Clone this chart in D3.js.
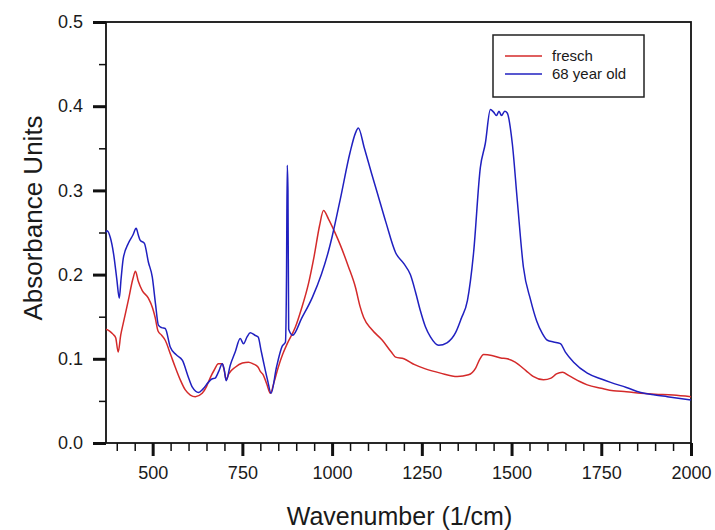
<!DOCTYPE html>
<html lang="en">
  <head>
    <meta charset="utf-8">
    <title>Absorbance spectra</title>
    <script src="https://cdnjs.cloudflare.com/ajax/libs/d3/7.8.5/d3.min.js"></script>
    <style>
      body { margin: 0; background: #fff; }
      text { font-family: "Liberation Sans", Arial, sans-serif; fill: #1a1a1a; }
    </style>
  </head>
  <body>
    <div class="chart"></div>
    <script>

      // wavenumber (1/cm) and absorbance
      var freschWave = [370, 380, 390, 397, 404, 411, 418, 432, 445, 452, 460, 471, 488, 500, 507, 515, 525, 535, 550, 563,
        577, 591, 605, 619, 638, 650, 661, 672, 683, 694, 700, 705, 712, 730, 750, 767, 780, 794, 800, 808,
        818, 828, 838, 850, 862, 875, 898, 915, 934, 950, 965, 976, 990, 1009, 1023, 1045, 1065, 1078, 1088, 1110,
        1140, 1165, 1177, 1200, 1230, 1260, 1302, 1349, 1380, 1400, 1412, 1422, 1445, 1470, 1488, 1510, 1540, 1560, 1589, 1610,
        1625, 1642, 1660, 1690, 1711, 1750, 1784, 1820, 1860, 1900, 1950, 2000];
      var freschAbs = [0.135, 0.133, 0.129, 0.125, 0.108, 0.128, 0.142, 0.169, 0.195, 0.204, 0.192, 0.181, 0.172, 0.160, 0.149, 0.133, 0.128, 0.122, 0.105, 0.090,
        0.075, 0.063, 0.057, 0.055, 0.059, 0.067, 0.078, 0.087, 0.094, 0.094, 0.085, 0.075, 0.082, 0.090, 0.095, 0.096, 0.094, 0.090, 0.085, 0.081,
        0.070, 0.059, 0.072, 0.090, 0.105, 0.118, 0.138, 0.160, 0.189, 0.222, 0.258, 0.276, 0.266, 0.249, 0.235, 0.210, 0.185, 0.162, 0.149, 0.135,
        0.122, 0.108, 0.102, 0.100, 0.093, 0.088, 0.083, 0.079, 0.081, 0.089, 0.100, 0.105, 0.104, 0.101, 0.100, 0.096, 0.086, 0.079, 0.075, 0.077,
        0.082, 0.084, 0.080, 0.073, 0.069, 0.065, 0.062, 0.061, 0.059, 0.058, 0.057, 0.055];

      var oldWave = [370, 373, 382, 391, 400, 407, 412, 418, 432, 445, 454, 460, 465, 477, 488, 499, 508, 516, 525, 535,
        549, 565, 583, 598, 611, 628, 640, 655, 665, 674, 684, 694, 699, 705, 716, 730, 744, 753, 763, 772,
        785, 794, 802, 808, 820, 830, 845, 861, 870, 873, 875, 877, 879, 890, 915, 945, 970, 990, 1000, 1023,
        1050, 1065, 1073, 1090, 1110, 1126, 1150, 1177, 1200, 1218, 1232, 1246, 1260, 1274, 1297, 1320, 1344, 1360, 1377, 1394,
        1413, 1427, 1441, 1450, 1458, 1465, 1472, 1481, 1488, 1502, 1516, 1533, 1553, 1570, 1586, 1600, 1617, 1636, 1650, 1673,
        1711, 1750, 1776, 1820, 1860, 1900, 1934, 2000];
      var oldAbs = [0.250, 0.252, 0.244, 0.225, 0.195, 0.172, 0.195, 0.219, 0.237, 0.247, 0.255, 0.247, 0.241, 0.237, 0.215, 0.197, 0.165, 0.140, 0.137, 0.136,
        0.114, 0.105, 0.098, 0.080, 0.066, 0.060, 0.064, 0.072, 0.076, 0.077, 0.085, 0.094, 0.088, 0.074, 0.092, 0.108, 0.124, 0.118, 0.126, 0.131,
        0.128, 0.126, 0.110, 0.098, 0.075, 0.059, 0.090, 0.115, 0.120, 0.200, 0.330, 0.300, 0.135, 0.128, 0.148, 0.173, 0.200, 0.228, 0.245, 0.290,
        0.345, 0.368, 0.374, 0.350, 0.320, 0.297, 0.262, 0.226, 0.213, 0.200, 0.180, 0.157, 0.138, 0.126, 0.116, 0.119, 0.131, 0.148, 0.169, 0.225,
        0.327, 0.356, 0.396, 0.393, 0.389, 0.394, 0.389, 0.394, 0.392, 0.356, 0.288, 0.209, 0.170, 0.145, 0.130, 0.122, 0.120, 0.118, 0.108, 0.096,
        0.083, 0.076, 0.072, 0.066, 0.060, 0.057, 0.055, 0.051];

      var seriesNames = ["fresch", "68 year old"];
      var seriesColors = ["#d42a2a", "#2020c0"];

      var xMajorTicks = [500, 750, 1000, 1250, 1500, 1750, 2000];
      var xMinorTicks = d3.range(400, 2001, 50);
      var yMajorTicks = [0, 0.1, 0.2, 0.3, 0.4, 0.5];
      var yMinorTicks = [0.05, 0.15, 0.25, 0.35, 0.45];

      var svgWidth = 715;
      var svgHeight = 530;
      var margin = { top: 22, right: 24, bottom: 87, left: 106 };
      var width = svgWidth - margin.left - margin.right;
      var height = svgHeight - margin.top - margin.bottom;

      var svg = d3.select(".chart")
        .append("svg")
        .attr("width", svgWidth)
        .attr("height", svgHeight);

      var chartGroup = svg.append("g")
        .attr("transform", `translate(${margin.left}, ${margin.top})`);

      var xScale = d3.scaleLinear().domain([370, 2000]).range([0, width]);
      var yScale = d3.scaleLinear().domain([0, 0.5]).range([height, 0]);

      // minor ticks first, then majors with labels
      chartGroup.append("g")
        .attr("class", "x minor")
        .attr("transform", `translate(0, ${height})`)
        .call(d3.axisBottom(xScale).tickValues(xMinorTicks).tickSize(8).tickFormat(""));

      chartGroup.append("g")
        .attr("class", "x major")
        .attr("transform", `translate(0, ${height})`)
        .call(d3.axisBottom(xScale).tickValues(xMajorTicks).tickSize(13).tickPadding(10).tickFormat(d3.format("d")));

      chartGroup.append("g")
        .attr("class", "y minor")
        .call(d3.axisLeft(yScale).tickValues(yMinorTicks).tickSize(7).tickFormat(""));

      chartGroup.append("g")
        .attr("class", "y major")
        .call(d3.axisLeft(yScale).tickValues(yMajorTicks).tickSize(13).tickPadding(10).tickFormat(d3.format(".1f")));

      chartGroup.selectAll(".domain").remove();
      chartGroup.selectAll(".minor .tick line").attr("stroke", "#111").attr("stroke-width", 1.5);
      chartGroup.selectAll(".major .tick line").attr("stroke", "#111").attr("stroke-width", 3);
      chartGroup.selectAll(".tick text").attr("font-size", 18).attr("fill", "#1a1a1a");

      // frame
      chartGroup.append("rect")
        .attr("width", width)
        .attr("height", height)
        .attr("fill", "none")
        .attr("stroke", "#111")
        .attr("stroke-width", 1.8);

      var line = d3.line()
        .x(d => xScale(d[0]))
        .y(d => yScale(d[1]))
        .curve(d3.curveMonotoneX);

      var series = [
        d3.zip(freschWave, freschAbs),
        d3.zip(oldWave, oldAbs)
      ];

      chartGroup.selectAll(".spectrum")
        .data(series)
        .enter()
        .append("path")
        .attr("class", "spectrum")
        .attr("d", line)
        .attr("fill", "none")
        .attr("stroke", (d, i) => seriesColors[i])
        .attr("stroke-width", 1.5);

      // legend
      var legend = svg.append("g")
        .attr("transform", "translate(493, 35)");

      legend.append("rect")
        .attr("width", 151)
        .attr("height", 62)
        .attr("fill", "#fff")
        .attr("stroke", "#222")
        .attr("stroke-width", 1.5);

      seriesNames.forEach(function (name, i) {
        legend.append("line")
          .attr("x1", 12).attr("x2", 49)
          .attr("y1", 21 + i * 18).attr("y2", 21 + i * 18)
          .attr("stroke", seriesColors[i])
          .attr("stroke-width", 1.5);
        legend.append("text")
          .attr("x", 59)
          .attr("y", 21 + i * 18)
          .attr("dy", "0.35em")
          .attr("font-size", 15)
          .text(name);
      });

      // axis titles
      chartGroup.append("text")
        .attr("transform", "rotate(-90)")
        .attr("x", 0 - 196)
        .attr("y", 0 - margin.left + 42)
        .attr("text-anchor", "middle")
        .attr("font-size", 26)
        .text("Absorbance Units");

      chartGroup.append("text")
        .attr("x", width / 2 + 1)
        .attr("y", height + 82)
        .attr("text-anchor", "middle")
        .attr("font-size", 25)
        .text("Wavenumber (1/cm)");
    </script>
  </body>
</html>
